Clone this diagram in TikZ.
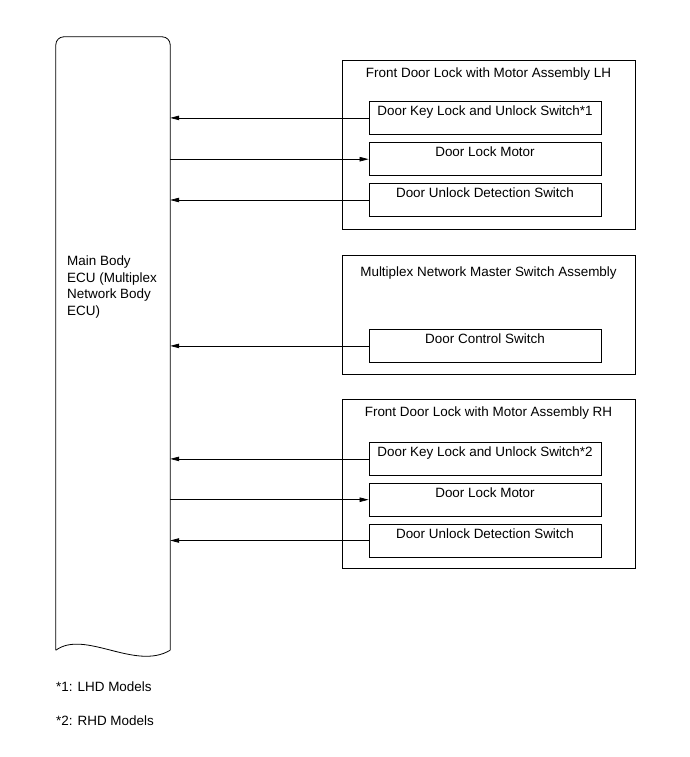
\documentclass[tikz,border=0pt]{standalone}
\usepackage{fontspec}
\setmainfont{Liberation Sans}
\usetikzlibrary{positioning}
\usetikzlibrary{arrows.meta}

\begin{document}
\begin{tikzpicture}[
  x=1bp, y=-1bp,
  >={Triangle[length=9bp,width=4.5bp]},
  every node/.style={font=\fontsize{13.5}{16.5}\selectfont},
  grp/.style={draw, line width=0.8bp, minimum width=293bp, inner sep=0pt},
  part/.style={draw, line width=0.8bp, minimum width=232bp, inner sep=0pt,
               text height=14bp, text depth=19bp},
  ttl/.style={inner sep=0pt},
  sig/.style={->, line width=0.7bp},
  note/.style={anchor=west, inner sep=0pt}
]
\useasboundingbox (0,0) rectangle (690,757);

% ---------- Main Body ECU ----------
\node[minimum width=114bp, minimum height=613bp, inner sep=0pt] (ecu) at (113,343.5) {};
\draw[line width=0.8bp, rounded corners=8bp]
  (ecu.south west) -- (ecu.north west) -- (ecu.north east) -- (ecu.south east);
\draw[line width=0.8bp]
  (ecu.south west) .. controls +(29,-21) and +(-35,21) .. (ecu.south east);
\node[anchor=north west, align=left, inner sep=0pt] (ecutxt) at (67,256)
  {Main Body\\ECU (Multiplex\\Network Body\\ECU)};

% ---------- Front door lock LH ----------
\node[grp, minimum height=169bp] (lh) at (488.5,144.5) {};
\node[ttl, below=8bp of lh.north] (lhttl) {Front Door Lock with Motor Assembly LH};
\node[part, anchor=north] (lhkey) at (485,101) {Door Key Lock and Unlock Switch*1};
\node[part, below=7.5bp of lhkey] (lhmot) {Door Lock Motor};
\node[part, below=7bp of lhmot] (lhunl) {Door Unlock Detection Switch};

% ---------- Master switch ----------
\node[grp, minimum height=119bp] (mpx) at (488.5,314.5) {};
\node[ttl, below=12bp of mpx.north] (mpxttl) {Multiplex Network Master Switch Assembly};
\node[part, anchor=north] (dcs) at (485,329) {Door Control Switch};

% ---------- Front door lock RH ----------
\node[grp, minimum height=169bp] (rh) at (488.5,483.5) {};
\node[ttl, below=8bp of rh.north] (rhttl) {Front Door Lock with Motor Assembly RH};
\node[part, anchor=north] (rhkey) at (485,442) {Door Key Lock and Unlock Switch*2};
\node[part, below=7bp of rhkey] (rhmot) {Door Lock Motor};
\node[part, below=7bp of rhmot] (rhunl) {Door Unlock Detection Switch};

% ---------- Signals ----------
\draw[sig] (lhkey.west) -- (lhkey.west -| ecu.east);
\draw[sig] (lhmot.west -| ecu.east) -- (lhmot.west);
\draw[sig] (lhunl.west) -- (lhunl.west -| ecu.east);
\draw[sig] (dcs.west) -- (dcs.west -| ecu.east);
\draw[sig] (rhkey.west) -- (rhkey.west -| ecu.east);
\draw[sig] (rhmot.west -| ecu.east) -- (rhmot.west);
\draw[sig] (rhunl.west) -- (rhunl.west -| ecu.east);

% ---------- Notes ----------
\node[note] (fn1) at (56,687) {*1: LHD Models};
\node[note] (fn2) at (56,721) {*2: RHD Models};

\end{tikzpicture}
\end{document}
